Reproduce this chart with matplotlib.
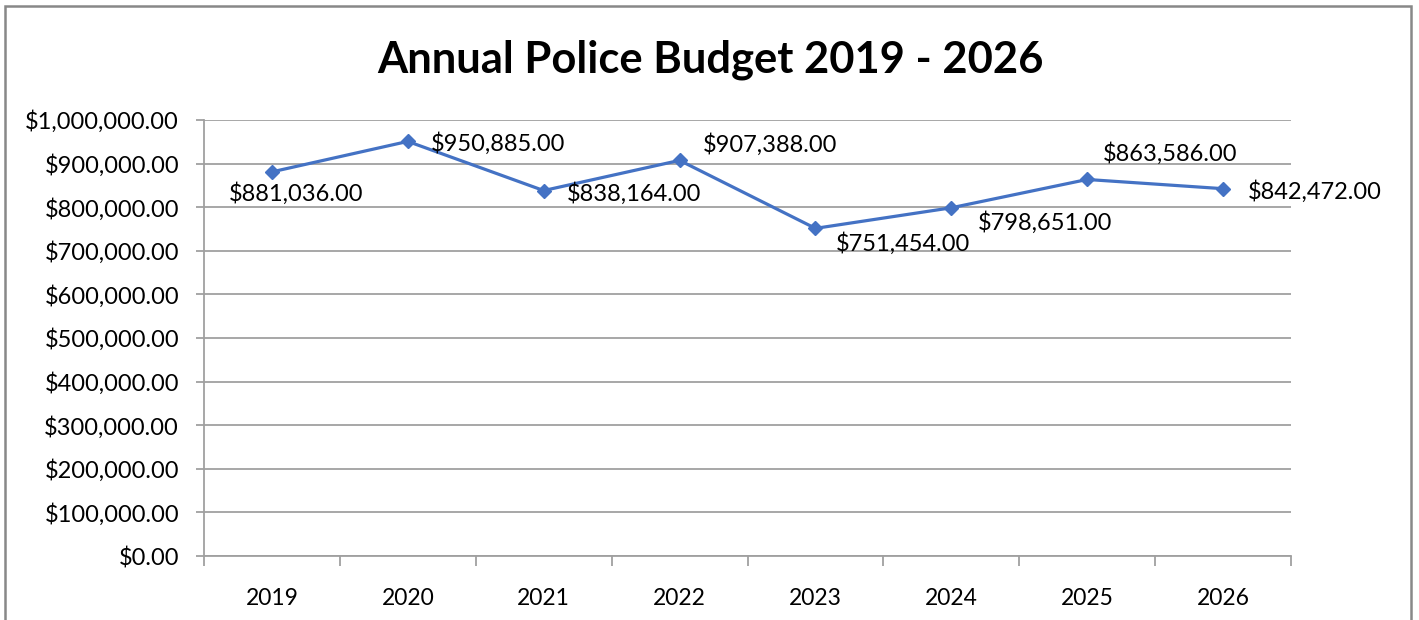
import matplotlib
matplotlib.use('Agg')
import matplotlib.pyplot as plt
import matplotlib.patches as patches
from matplotlib.ticker import FuncFormatter, FixedLocator
import numpy as np

# donnees
years = ['2019', '2020', '2021', '2022', '2023', '2024', '2025', '2026']
budget = [881036, 950885, 838164, 907388, 751454, 798651, 863586, 842472]
# decalage des etiquettes (pixels) comme dans l'original
label_dx = [-43, 23, 23, 23, 20, 27, 16, 25]
label_dy = [-22, -2, -3, 16, -15, -15, 26, -3]

plt.rcParams['font.family'] = ['Lato', 'DejaVu Sans']

fig = plt.figure(figsize=(14.19, 6.2), dpi=100)
ax = fig.add_axes([204 / 1419, 1 - 556 / 620, (1291 - 204) / 1419, (556 - 120) / 620])

x = np.arange(len(years))
ax.plot(x, budget, color='#4472C4', linewidth=2.3, marker='D', markersize=7.5, zorder=3)

for i, v in enumerate(budget):
    ax.annotate('${:,.2f}'.format(v), (x[i], v), xytext=(label_dx[i], label_dy[i]),
                textcoords='offset pixels', ha='left', va='center', fontsize=17)

ax.set_xlim(-0.5, len(years) - 0.5)
ax.set_ylim(0, 1000000)
ax.set_yticks(np.arange(0, 1000001, 100000))
ax.yaxis.set_major_formatter(FuncFormatter(lambda v, p: '${:,.2f}'.format(v)))
ax.set_xticks(x)
ax.set_xticklabels(years)
ax.xaxis.set_minor_locator(FixedLocator(np.arange(-0.5, len(years), 1)))

ax.grid(axis='y', color='#A0A0A0', linewidth=1.3)
ax.set_axisbelow(True)
for s in ['top', 'right']:
    ax.spines[s].set_visible(False)
for s in ['left', 'bottom']:
    ax.spines[s].set_color('#A0A0A0')
    ax.spines[s].set_linewidth(1.3)

ax.tick_params(axis='y', length=6, width=1.3, color='#A0A0A0', pad=12, labelsize=17)
ax.tick_params(axis='x', which='major', length=0, pad=23, labelsize=16.5)
ax.tick_params(axis='x', which='minor', length=7, width=1.3, color='#A0A0A0')

fig.text(710 / 1419, 1 - 60 / 620, 'Annual Police Budget 2019 - 2026', ha='center', va='center',
         fontsize=31.3, fontweight='bold')

# cadre du graphique
fig.patches.append(patches.Rectangle((5 / 1419, -0.05), (1411 - 5) / 1419, 1.05 - 6 / 620,
                                     transform=fig.transFigure, fill=False,
                                     edgecolor='#888888', linewidth=1.8))

plt.savefig('out.png', dpi=100)
